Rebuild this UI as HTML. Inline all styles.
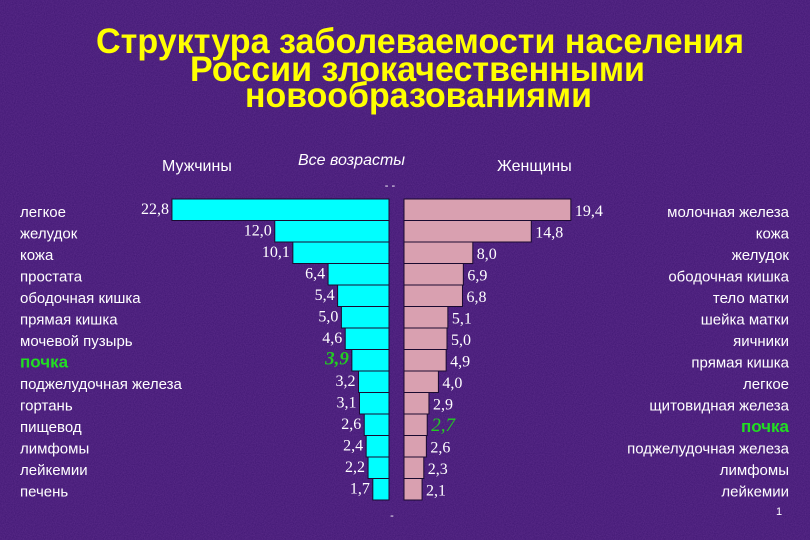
<!DOCTYPE html>
<html><head><meta charset="utf-8"><style>
html,body{margin:0;padding:0;background:#3e1670;}
svg{display:block}
</style></head><body>
<svg width="810" height="540" viewBox="0 0 810 540" xmlns="http://www.w3.org/2000/svg">
<defs>
<filter id="noise"><feTurbulence type="fractalNoise" baseFrequency="0.9" numOctaves="2" result="n"/><feColorMatrix type="matrix" values="0 0 0 0 0.3  0 0 0 0 0.1  0 0 0 0 0.5  0 0 0 0.35 0"/></filter>
</defs>
<rect width="810" height="540" fill="#3f1672"/>
<rect width="810" height="540" filter="url(#noise)"/>
<g font-family="Liberation Sans, sans-serif" font-weight="bold" fill="#ffff00" font-size="35">
<text x="96" y="53" textLength="648" lengthAdjust="spacingAndGlyphs">Структура заболеваемости населения</text>
<text x="190" y="81" textLength="455" lengthAdjust="spacingAndGlyphs">России злокачественными</text>
<text x="245" y="107" textLength="347" lengthAdjust="spacingAndGlyphs">новообразованиями</text>
</g>
<text x="162" y="171" font-family="Liberation Sans, sans-serif" font-size="16" fill="#fff">Мужчины</text>
<text x="298" y="165" font-family="Liberation Sans, sans-serif" font-style="italic" font-size="16" fill="#fff">Все возрасты</text>
<text x="497" y="171" font-family="Liberation Sans, sans-serif" font-size="16" fill="#fff">Женщины</text>
<text x="390" y="189" font-family="Liberation Sans, sans-serif" font-size="11" fill="#fff" text-anchor="middle">- -</text>
<text x="392" y="519" font-family="Liberation Sans, sans-serif" font-size="11" fill="#fff" text-anchor="middle">-</text>
<text x="776" y="515" font-family="Liberation Sans, sans-serif" font-size="11" fill="#fff">1</text>
<g id="chart"></g>
</svg>
<script>
const menLabels=["легкое","желудок","кожа","простата","ободочная кишка","прямая кишка","мочевой пузырь","почка","поджелудочная железа","гортань","пищевод","лимфомы","лейкемии","печень"];
const menValues=[22.8,12.0,10.1,6.4,5.4,5.0,4.6,3.9,3.2,3.1,2.6,2.4,2.2,1.7];
const womenLabels=["молочная железа","кожа","желудок","ободочная кишка","тело матки","шейка матки","яичники","прямая кишка","легкое","щитовидная железа","почка","поджелудочная железа","лимфомы","лейкемии"];
const womenValues=[19.4,14.8,8.0,6.9,6.8,5.1,5.0,4.9,4.0,2.9,2.7,2.6,2.3,2.1];
const highlightIndexMen=7, highlightIndexWomen=10;
const NS="http://www.w3.org/2000/svg";
const g=document.getElementById('chart');
const top0=199, pitch=21.5, bh=21.5;
const xMen=v=>389-v*9.52;
const xWomen=v=>404+v*8.6;
function mk(tag,attrs,txt){const e=document.createElementNS(NS,tag);for(const k in attrs)e.setAttribute(k,attrs[k]);if(txt!==undefined)e.textContent=txt;g.appendChild(e);return e;}
const fmt=v=>v.toFixed(1).replace('.',',');
menValues.forEach((v,i)=>{
  const y=top0+i*pitch;
  const r=mk('rect',{x:xMen(v),y:y,width:389-xMen(v),height:bh,fill:'#00ffff',stroke:'#1a0a30','stroke-width':1});
  
  
  const hl=i===highlightIndexMen;
  const t=mk('text',{x:xMen(v)-3,y:y+15,'text-anchor':'end','font-family':'Liberation Serif, serif','font-size':hl?19:16,fill:hl?'#22cc22':'#fff','font-style':hl?'italic':'normal','font-weight':hl?'bold':'normal'},fmt(v));
  
  
  const l=mk('text',{x:20,y:y+18,'font-family':'Liberation Sans, sans-serif','font-size':hl?17:15,fill:hl?'#22dd22':'#fff','font-weight':hl?'bold':'normal'},menLabels[i]);
  
  
});
womenValues.forEach((v,i)=>{
  const y=top0+i*pitch;
  const r=mk('rect',{x:404,y:y,width:xWomen(v)-404,height:bh,fill:'#d9a0b0',stroke:'#1a0a30','stroke-width':1});
  
  
  const hl=i===highlightIndexWomen;
  const t=mk('text',{x:xWomen(v)+4,y:y+17,'font-family':'Liberation Serif, serif','font-size':hl?19:16,fill:hl?'#22cc22':'#fff','font-style':hl?'italic':'normal'},fmt(v));
  
  
  const l=mk('text',{x:789,y:y+18,'text-anchor':'end','font-family':'Liberation Sans, sans-serif','font-size':hl?17:15,fill:hl?'#22dd22':'#fff','font-weight':hl?'bold':'normal'},womenLabels[i]);
  
  
});
</script>
</body></html>
